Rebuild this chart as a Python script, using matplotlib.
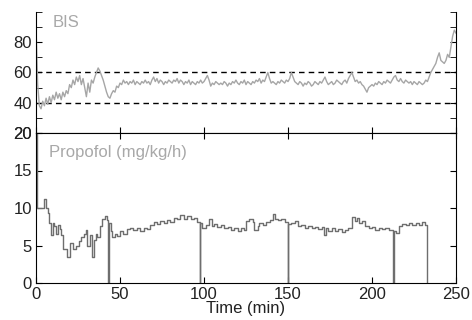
import numpy as np
import matplotlib
matplotlib.use("Agg")
import matplotlib.pyplot as plt
from matplotlib.ticker import MultipleLocator

plt.rcParams['font.family'] = ['Liberation Sans', 'DejaVu Sans']

# BIS, one value per minute, 0..250 min
bis = [90, 52, 38, 36, 41, 38, 43, 39, 44, 40,
       45, 42, 47, 43, 46, 42, 47, 44, 48, 46,
       52, 50, 55, 52, 57, 54, 58, 52, 56, 50,
       44, 53, 47, 55, 53, 57, 60, 63, 61, 58,
       55, 51, 47, 44, 43, 46, 48, 47, 51, 50,
       53, 52, 55, 53, 54, 52, 54, 53, 55, 52,
       54, 53, 52, 54, 53, 55, 53, 54, 52, 55,
       57, 54, 56, 53, 55, 54, 52, 54, 53, 55,
       54, 53, 55, 54, 56, 53, 55, 54, 52, 54,
       53, 55, 52, 54, 53, 52, 54, 53, 55, 53,
       54, 56, 58, 55, 51, 53, 52, 54, 53, 52,
       53, 52, 54, 53, 51, 53, 52, 54, 53, 55,
       53, 52, 54, 53, 55, 52, 54, 53, 52, 54,
       53, 55, 54, 56, 53, 55, 54, 57, 60, 56,
       53, 54, 53, 52, 54, 53, 55, 54, 53, 55,
       54, 56, 60, 57, 54, 53, 52, 54, 53, 51,
       53, 52, 54, 53, 51, 52, 54, 53, 52, 54,
       53, 55, 57, 54, 52, 53, 54, 52, 53, 55,
       54, 53, 52, 54, 55, 53, 56, 58, 60, 57,
       54, 55, 53, 54, 52, 51, 49, 47, 50, 51,
       52, 51, 53, 52, 54, 53, 52, 54, 53, 55,
       54, 53, 55, 57, 58, 55, 54, 56, 54, 53,
       55, 54, 53, 54, 52, 54, 53, 52, 54, 53,
       52, 53, 55, 54, 57, 60, 62, 64, 66, 70,
       73, 68, 67, 66, 68, 72, 70, 77, 84, 88,
       86]
bis_t = np.arange(len(bis))

# propofol infusion rate, step changes (time, mg/kg/h)
prop_t = [0, 0.6, 5, 6, 7, 8, 9, 10, 11, 12, 13, 14, 15, 16, 18.5, 20.5, 22, 24,
          25.5, 27, 28.5, 29.5, 30.5, 32, 33.5, 34.5, 35.5, 36.5, 38, 39.5, 41, 42.5,
          43, 43.4, 44.5, 45.5, 47, 48.5, 50, 52, 54, 56, 58, 60, 62, 64, 66, 68,
          70, 72, 74, 76, 78, 80, 82, 84, 86, 88, 90, 92, 94, 96, 97.4, 97.8,
          99, 101, 103, 104.5, 106, 108, 110, 112, 114, 116, 118, 120, 122, 124,
          125, 127, 129, 130, 132, 133, 135, 137, 139, 141, 142, 144, 146, 148,
          149.8, 150.2, 152, 154, 156, 158, 160, 162, 164, 166, 168, 170, 171.5,
          172.5, 174, 176, 178, 180, 182, 184, 186, 188, 190, 191, 192, 194, 196,
          198, 200, 202, 204, 206, 208, 210, 212.5, 212.9, 214, 216, 218, 220, 222,
          224, 226, 228, 230, 231.5, 232.8]
prop_v = [20, 10, 11.2, 10, 9.4, 8, 6.4, 8, 7.6, 6.5, 7.8, 7.2, 6.4, 4.6, 3.5, 5.3, 4.5, 5,
          5.6, 6.2, 6.6, 7.1, 5, 6.4, 3.5, 5.8, 6.5, 6.2, 7.6, 8.6, 8.9, 8.4,
          0, 8, 7, 6.2, 6.6, 6.3, 6.9, 6.6, 7.2, 7.4, 7.1, 7.3, 7.0, 7.4, 7.2, 7.7,
          8.1, 7.9, 8.3, 8.0, 8.4, 8.2, 8.7, 8.5, 9.1, 8.6, 8.9, 8.5, 8.7, 8.2, 0, 8,
          7.3, 7.7, 8.6, 7.6, 7.9, 7.5, 7.7, 7.3, 7.5, 7.1, 7.3, 7.0, 7.3, 7.1,
          8.3, 8.6, 8.2, 7.1, 7.6, 8.0, 7.8, 8.1, 8.4, 9.2, 8.6, 8.4, 8.6, 8.2,
          0, 7.9, 8.0, 8.3, 7.6, 7.8, 7.4, 7.6, 7.3, 7.5, 7.2, 7.5, 6.4,
          7.3, 7.0, 7.4, 6.9, 7.2, 6.8, 7.1, 7.3, 8.8, 8.3, 8.7, 8.0, 8.3, 7.6,
          7.3, 7.5, 7.1, 7.4, 7.2, 7.3, 7.1, 0, 7.0, 6.7, 7.6, 7.9, 7.7, 8.0,
          7.8, 8.0, 7.7, 8.2, 7.8, 0]

bis_limits = [40, 60]

fig = plt.figure(figsize=(4.72, 3.2), dpi=100)
ax1 = fig.add_axes([36/472, 1-133/320, 420/472, 121/320])
ax2 = fig.add_axes([36/472, 1-283/320, 420/472, 150/320], sharex=ax1)

for y in bis_limits:
    ax1.plot([0, 250], [y, y], color='black', lw=1, dashes=(4, 3))
ax1.plot(bis_t, bis, color='#a6a6a6', lw=1)
ax1.set_ylim(20, 100)
ax1.set_yticks([20, 40, 60, 80])
ax1.yaxis.set_minor_locator(MultipleLocator(10))
ax1.spines['top'].set_visible(False)
ax1.tick_params(which='both', direction='in', right=True, top=False, length=4,
                labelsize=12, labelbottom=False, pad=3, labelcolor='#222222')
ax1.text(10, 93, 'BIS', color='#a8a8a8', fontsize=12, va='center')

ax2.plot(prop_t, prop_v, color='#6e6e6e', lw=1, drawstyle='steps-post')
ax2.set_ylim(0, 20)
ax2.set_xlim(0, 250)
ax2.set_yticks([0, 5, 10, 15, 20])
ax2.set_xticks([0, 50, 100, 150, 200, 250])
ax2.tick_params(direction='in', right=True, top=True, length=4, labelsize=12,
                pad=3, labelcolor='#222222')
ax2.text(8, 17.4, 'Propofol (mg/kg/h)', color='#a8a8a8', fontsize=12, va='center')
ax2.set_xlabel('Time (min)', fontsize=12, labelpad=-1, color='#222222')

fig.savefig('out.png', dpi=100)
